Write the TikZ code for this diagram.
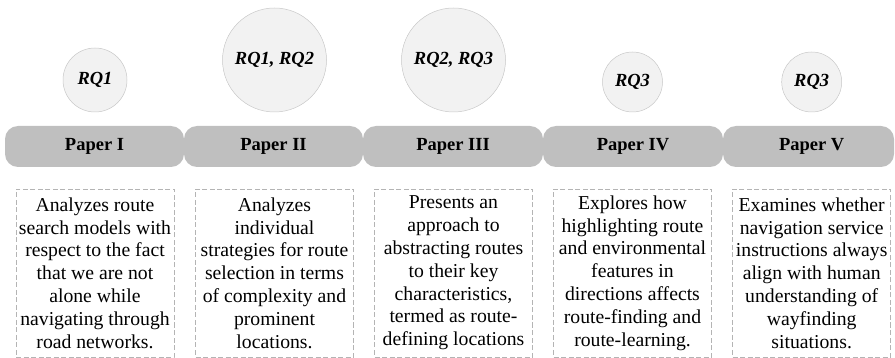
\documentclass[tikz,border=0pt]{standalone}
\usepackage{fontspec}
\setmainfont{Liberation Serif}
\definecolor{barfill}{HTML}{BFBFBF}
\definecolor{rqfill}{HTML}{F2F2F2}
\definecolor{rqline}{HTML}{C8C8C8}
\definecolor{boxline}{HTML}{B4B4B4}
\tikzset{
  paperbar/.style={rectangle, rounded corners=13pt, fill=barfill, draw=none,
    minimum height=41pt, inner sep=0pt, font=\fontsize{18.5}{22}\selectfont\bfseries},
  rqcircle/.style={circle, fill=rqfill, draw=rqline, line width=0.5pt, inner sep=0pt,
    font=\fontsize{18.5}{22}\selectfont\bfseries\itshape},
  descbox/.style={rectangle, draw=boxline, line width=0.8pt, dash pattern=on 5pt off 2.5pt,
    minimum width=158pt, minimum height=168pt, inner sep=0pt, align=center,
    font=\fontsize{19.7}{22.8}\selectfont}
}
\begin{document}
\begin{tikzpicture}[x=1pt, y=-1pt]
\useasboundingbox (0,0) rectangle (895,358);

% research question circles
\node[rqcircle, minimum size=64pt]  (rq1) at (95,80)    {RQ1};
\node[rqcircle, minimum size=104pt] (rq2) at (274.5,60) {RQ1, RQ2};
\node[rqcircle, minimum size=104pt] (rq3) at (453.5,60) {RQ2, RQ3};
\node[rqcircle, minimum size=60pt]  (rq4) at (632.5,82) {RQ3};
\node[rqcircle, minimum size=60pt]  (rq5) at (811.7,82) {RQ3};

% paper bars
\node[paperbar, minimum width=179pt] (p1) at (94.5,146.5)  {Paper I};
\node[paperbar, minimum width=179pt] (p2) at (273.5,146.5) {Paper II};
\node[paperbar, minimum width=180pt] (p3) at (453,146.5)   {Paper III};
\node[paperbar, minimum width=180pt] (p4) at (633,146.5)   {Paper IV};
\node[paperbar, minimum width=171pt] (p5) at (808.5,146.5) {};
\node[font=\fontsize{18.5}{22}\selectfont\bfseries] (p5lbl) at (811.7,146.5) {Paper V};

% descriptions
\node[descbox] (d1) at (95,273) {Analyzes route\\search models with\\respect to the fact\\that we are not\\alone while\\navigating through\\road networks.};
\node[descbox] (d2) at (274.5,273) {Analyzes\\individual\\strategies for route\\selection in terms\\of complexity and\\prominent\\locations.};
\node[descbox] (d3) at (453.5,273) {Presents an\\approach to\\abstracting routes\\to their key\\characteristics,\\termed as route-\\defining locations};
\node[descbox] (d4) at (632.5,273) {Explores how\\highlighting route\\and environmental\\features in\\directions affects\\route-finding and\\route-learning.};
\node[descbox] (d5) at (811.7,273) {Examines whether\\navigation service\\instructions always\\align with human\\understanding of\\wayfinding\\situations.};
\end{tikzpicture}
\end{document}
